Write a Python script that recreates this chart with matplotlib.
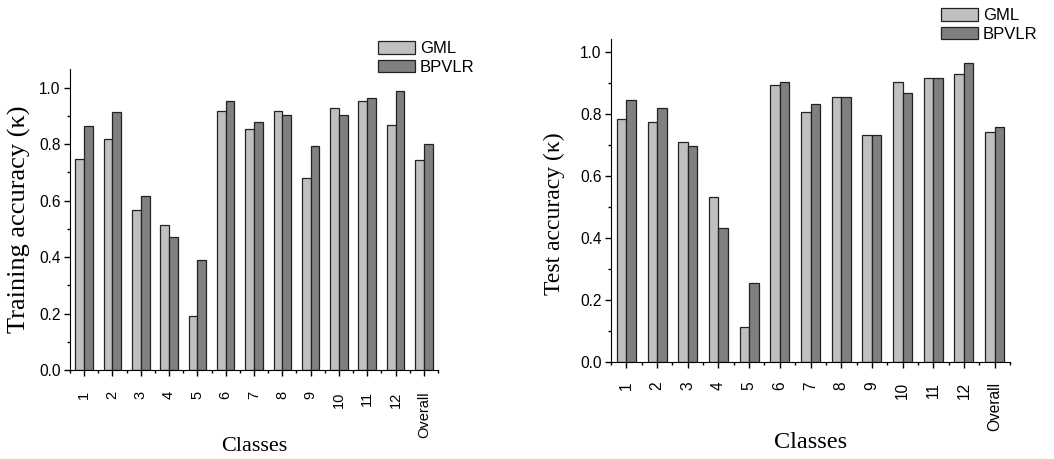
import numpy as np
import matplotlib
matplotlib.use('Agg')
import matplotlib.pyplot as plt
from matplotlib.ticker import MultipleLocator

plt.rcParams['font.family'] = 'Liberation Sans'

classes = ['1', '2', '3', '4', '5', '6', '7', '8', '9', '10', '11', '12', 'Overall']

# training accuracy (kappa)
train_gml = [0.747, 0.819, 0.568, 0.512, 0.192, 0.916, 0.852, 0.916, 0.681, 0.927, 0.952, 0.868, 0.743]
train_bpvlr = [0.865, 0.915, 0.617, 0.471, 0.388, 0.952, 0.877, 0.902, 0.792, 0.903, 0.963, 0.987, 0.800]

# test accuracy (kappa)
test_gml = [0.783, 0.772, 0.708, 0.533, 0.114, 0.892, 0.806, 0.853, 0.730, 0.902, 0.916, 0.927, 0.742]
test_bpvlr = [0.843, 0.818, 0.695, 0.433, 0.253, 0.904, 0.830, 0.853, 0.730, 0.867, 0.916, 0.964, 0.757]

c_gml = '#c0c0c0'
c_bp = '#808080'
serif = 'Liberation Serif'


def draw(ax, gml, bp, ylabel, ytop, tfs, yfs, xfs, xpad, ylc, xlc):
    x = np.arange(1, len(classes) + 1)
    w = 0.31
    ax.bar(x - w / 2, gml, w, color=c_gml, edgecolor='#222222', linewidth=0.9, label='GML')
    ax.bar(x + w / 2, bp, w, color=c_bp, edgecolor='#222222', linewidth=0.9, label='BPVLR')
    ax.set_xlim(0.5, len(classes) + 0.5)
    ax.set_ylim(0, ytop)
    ax.set_xticks(x)
    ax.set_xticklabels(classes, rotation=90, fontsize=tfs)
    ax.set_xticks(np.arange(0.5, len(classes) + 1, 1), minor=True)
    ax.yaxis.set_minor_locator(MultipleLocator(0.1))
    yt = np.arange(0, 1.01, 0.2)
    ax.set_yticks(yt)
    ax.set_yticklabels(['%.1f' % v for v in yt], fontsize=11.2)
    ax.tick_params(which='major', direction='out', length=4.3, width=1)
    ax.tick_params(which='minor', direction='out', length=2.3, width=1)
    ax.tick_params(axis='x', which='major', pad=xpad)
    ax.tick_params(axis='y', which='major', pad=2.5)
    for s in ['top', 'right']:
        ax.spines[s].set_visible(False)
    ax.set_xlabel('Classes', family=serif, fontsize=xfs)
    ax.set_ylabel(ylabel, family=serif, fontsize=yfs)
    ax.xaxis.set_label_coords(0.5, xlc)
    ax.yaxis.set_label_coords(ylc[0], ylc[1])


fig = plt.figure(figsize=(10.54, 4.59), dpi=100)
ax1 = fig.add_axes([70 / 1054, 1 - 370 / 459, 368 / 1054, 301 / 459])
ax2 = fig.add_axes([611 / 1054, 1 - 362 / 459, 399 / 1054, 323 / 459])

draw(ax1, train_gml, train_bpvlr, 'Training accuracy (κ)', 1.066, 10.5, 19, 16, 11, (-0.105, 0.5), -0.222)
draw(ax2, test_gml, test_bpvlr, 'Test accuracy (κ)', 1.041, 11.2, 17, 17.5, 10, (-0.115, 0.46), -0.217)

leg_kw = dict(frameon=False, fontsize=12, handlelength=2.2, handleheight=0.8, labelspacing=0.2,
              handletextpad=0.3, borderaxespad=0, borderpad=0)
ax1.legend(loc='upper left', bbox_to_anchor=(378 / 1054, 1 - 41 / 459), bbox_transform=fig.transFigure, **leg_kw)
ax2.legend(loc='upper left', bbox_to_anchor=(941 / 1054, 1 - 8 / 459), bbox_transform=fig.transFigure, **leg_kw)

fig.savefig('out.png', dpi=100)
